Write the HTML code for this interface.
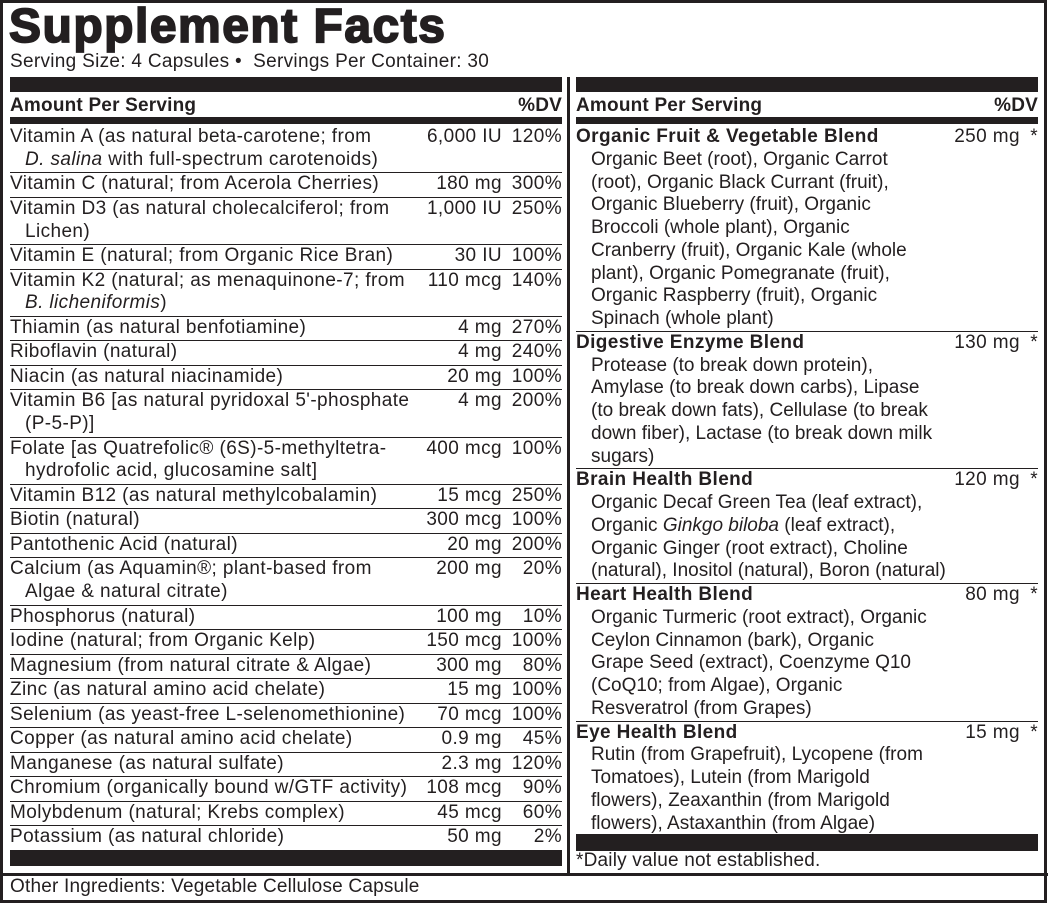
<!DOCTYPE html>
<html><head><meta charset="utf-8"><style>
*{margin:0;padding:0;box-sizing:border-box}
body{width:1048px;height:903px;background:#fff;font-family:"Liberation Sans",Arial,sans-serif;color:#231f20;position:relative;overflow:hidden;letter-spacing:0.4px}
.frame{position:absolute;left:0;top:0;width:1047px;height:903px;border:3px solid #231f20}
.title{position:absolute;left:9px;top:0px;font-size:48px;font-weight:bold;letter-spacing:1.5px;-webkit-text-stroke:1.8px #231f20;line-height:54px}
.serv{position:absolute;left:10px;top:51px;font-size:19px;line-height:22px;letter-spacing:0.3px}
.col{position:absolute;top:77px}
.bar{background:#231f20;height:15px}
.hdr{font-weight:bold;font-size:19px;line-height:25px;height:25px;display:flex;justify-content:space-between;padding-top:1px;letter-spacing:0.2px}
.thick{background:#231f20;height:7px;margin-bottom:2px}
.row{display:flex;font-size:19px;line-height:22.75px;border-bottom:1px solid #231f20;padding-bottom:0.75px}
.row:last-of-type{border-bottom:none}
.nm{flex:1;min-width:0;white-space:nowrap}
.ind{padding-left:15px}
.amt{flex:none;width:110px;text-align:right;white-space:nowrap}
.dv{flex:none;width:60px;text-align:right;white-space:nowrap}
.r .row{padding-bottom:0;border-bottom:1px solid #231f20}
.r .amt{width:80px}
.r .ind{letter-spacing:0}
.star{flex:none;width:18px;text-align:right}
.vdiv{position:absolute;left:567px;top:77px;width:3px;height:797px;background:#231f20}
.hline{position:absolute;left:0;top:873px;width:1048px;height:3px;background:#231f20}
.other{position:absolute;left:10px;top:876px;font-size:19px;line-height:21px;letter-spacing:0.2px}
</style></head><body>
<div class="frame"></div>
<div class="title">Supplement Facts</div>
<div class="serv">Serving Size: 4 Capsules &#8226; &nbsp;Servings Per Container: 30</div>
<div class="vdiv"></div>
<div class="col" style="left:10px;width:552px">
<div class="bar"></div>
<div class="hdr"><span>Amount Per Serving</span><span>%DV</span></div>
<div class="thick"></div>
<div class="row"><div class="nm">Vitamin A (as natural beta-carotene; from<br><span class="ind"><i>D. salina</i> with full-spectrum carotenoids)</span></div><div class="amt">6,000 IU</div><div class="dv">120%</div></div>
<div class="row"><div class="nm">Vitamin C (natural; from Acerola Cherries)</div><div class="amt">180 mg</div><div class="dv">300%</div></div>
<div class="row"><div class="nm">Vitamin D3 (as natural cholecalciferol; from<br><span class="ind">Lichen)</span></div><div class="amt">1,000 IU</div><div class="dv">250%</div></div>
<div class="row"><div class="nm">Vitamin E (natural; from Organic Rice Bran)</div><div class="amt">30 IU</div><div class="dv">100%</div></div>
<div class="row"><div class="nm">Vitamin K2 (natural; as menaquinone-7; from<br><span class="ind"><i>B. licheniformis</i>)</span></div><div class="amt">110 mcg</div><div class="dv">140%</div></div>
<div class="row"><div class="nm">Thiamin (as natural benfotiamine)</div><div class="amt">4 mg</div><div class="dv">270%</div></div>
<div class="row"><div class="nm">Riboflavin (natural)</div><div class="amt">4 mg</div><div class="dv">240%</div></div>
<div class="row"><div class="nm">Niacin (as natural niacinamide)</div><div class="amt">20 mg</div><div class="dv">100%</div></div>
<div class="row"><div class="nm">Vitamin B6 [as natural pyridoxal 5'-phosphate<br><span class="ind">(P-5-P)]</span></div><div class="amt">4 mg</div><div class="dv">200%</div></div>
<div class="row"><div class="nm">Folate [as Quatrefolic® (6S)-5-methyltetra-<br><span class="ind">hydrofolic acid, glucosamine salt]</span></div><div class="amt">400 mcg</div><div class="dv">100%</div></div>
<div class="row"><div class="nm">Vitamin B12 (as natural methylcobalamin)</div><div class="amt">15 mcg</div><div class="dv">250%</div></div>
<div class="row"><div class="nm">Biotin (natural)</div><div class="amt">300 mcg</div><div class="dv">100%</div></div>
<div class="row"><div class="nm">Pantothenic Acid (natural)</div><div class="amt">20 mg</div><div class="dv">200%</div></div>
<div class="row"><div class="nm">Calcium (as Aquamin®; plant-based from<br><span class="ind">Algae &amp; natural citrate)</span></div><div class="amt">200 mg</div><div class="dv">20%</div></div>
<div class="row"><div class="nm">Phosphorus (natural)</div><div class="amt">100 mg</div><div class="dv">10%</div></div>
<div class="row"><div class="nm">Iodine (natural; from Organic Kelp)</div><div class="amt">150 mcg</div><div class="dv">100%</div></div>
<div class="row"><div class="nm">Magnesium (from natural citrate &amp; Algae)</div><div class="amt">300 mg</div><div class="dv">80%</div></div>
<div class="row"><div class="nm">Zinc (as natural amino acid chelate)</div><div class="amt">15 mg</div><div class="dv">100%</div></div>
<div class="row"><div class="nm">Selenium (as yeast-free L-selenomethionine)</div><div class="amt">70 mcg</div><div class="dv">100%</div></div>
<div class="row"><div class="nm">Copper (as natural amino acid chelate)</div><div class="amt">0.9 mg</div><div class="dv">45%</div></div>
<div class="row"><div class="nm">Manganese (as natural sulfate)</div><div class="amt">2.3 mg</div><div class="dv">120%</div></div>
<div class="row"><div class="nm">Chromium (organically bound w/GTF activity)</div><div class="amt">108 mcg</div><div class="dv">90%</div></div>
<div class="row"><div class="nm">Molybdenum (natural; Krebs complex)</div><div class="amt">45 mcg</div><div class="dv">60%</div></div>
<div class="row"><div class="nm">Potassium (as natural chloride)</div><div class="amt">50 mg</div><div class="dv">2%</div></div>
<div class="bar" style="position:absolute;top:773px;left:0;width:552px;height:16px"></div>
</div>
<div class="col r" style="left:576px;width:462px">
<div class="bar"></div>
<div class="hdr"><span>Amount Per Serving</span><span>%DV</span></div>
<div class="thick"></div>
<div class="row"><div class="nm"><b>Organic Fruit &amp; Vegetable Blend</b><div class="ind">Organic Beet (root), Organic Carrot<br>(root), Organic Black Currant (fruit),<br>Organic Blueberry (fruit), Organic<br>Broccoli (whole plant), Organic<br>Cranberry (fruit), Organic Kale (whole<br>plant), Organic Pomegranate (fruit),<br>Organic Raspberry (fruit), Organic<br>Spinach (whole plant)</div></div><div class="amt">250 mg</div><div class="star">*</div></div>
<div class="row"><div class="nm"><b>Digestive Enzyme Blend</b><div class="ind">Protease (to break down protein),<br>Amylase (to break down carbs), Lipase<br>(to break down fats), Cellulase (to break<br>down fiber), Lactase (to break down milk<br>sugars)</div></div><div class="amt">130 mg</div><div class="star">*</div></div>
<div class="row"><div class="nm"><b>Brain Health Blend</b><div class="ind">Organic Decaf Green Tea (leaf extract),<br>Organic <i>Ginkgo biloba</i> (leaf extract),<br>Organic Ginger (root extract), Choline<br>(natural), Inositol (natural), Boron (natural)</div></div><div class="amt">120 mg</div><div class="star">*</div></div>
<div class="row"><div class="nm"><b>Heart Health Blend</b><div class="ind">Organic Turmeric (root extract), Organic<br>Ceylon Cinnamon (bark), Organic<br>Grape Seed (extract), Coenzyme Q10<br>(CoQ10; from Algae), Organic<br>Resveratrol (from Grapes)</div></div><div class="amt">80 mg</div><div class="star">*</div></div>
<div class="row" style="border-bottom:none"><div class="nm"><b>Eye Health Blend</b><div class="ind">Rutin (from Grapefruit), Lycopene (from<br>Tomatoes), Lutein (from Marigold<br>flowers), Zeaxanthin (from Marigold<br>flowers), Astaxanthin (from Algae)</div></div><div class="amt">15 mg</div><div class="star">*</div></div>
<div class="bar" style="position:absolute;top:757px;left:0;width:462px;height:17px"></div>
<div style="position:absolute;top:773px;left:0;font-size:19px;line-height:22px;letter-spacing:0.2px">*Daily value not established.</div>
</div>
<div class="hline"></div>
<div class="other">Other Ingredients: Vegetable Cellulose Capsule</div>
</body></html>
